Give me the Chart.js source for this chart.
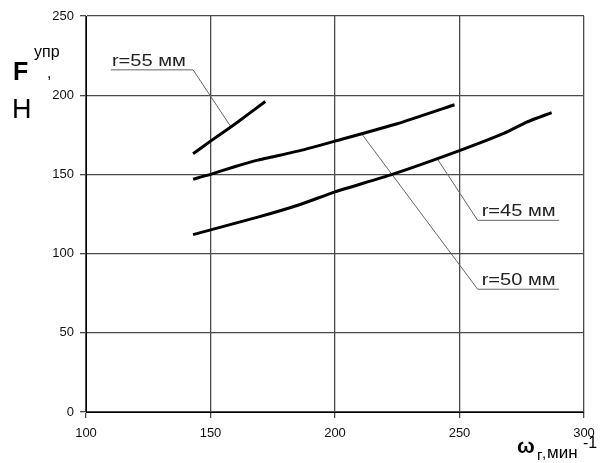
<!DOCTYPE html>
<html>
<head>
<meta charset="utf-8">
<script src="https://cdn.jsdelivr.net/npm/chart.js@4"></script>
<style>
  body { margin: 0; background: #fff; }
  #wrap { width: 604px; height: 463px; }
</style>
</head>
<body>
<div id="wrap"><canvas id="forceChart"></canvas></div>
<script>
// curves (omega, min^-1 -> F, N)
const upperX = [143, 150, 160, 172];
const upperY = [163, 171, 182, 196];
const middleX = [143, 150, 160, 169, 186, 200, 225, 248];
const middleY = [147, 150, 155, 159, 165, 171, 182, 194];
const lowerX = [143, 169, 186, 200, 223, 250, 268, 277, 287];
const lowerY = [112, 123, 131, 139, 150, 165, 176, 183, 189];

// callouts: underline + leader, in data units
const labelText = ["r=55 мм", "r=45 мм", "r=50 мм"];
const leader55X = [110, 143, 158];
const leader55Y = [216, 216, 180.5];
const leader45X = [290, 257.3, 241];
const leader45Y = [121, 121, 160];
const leader50X = [290, 257.3, 211];
const leader50Y = [77.5, 77.5, 175];

const xTicks = [100, 150, 200, 250, 300];
const yTicks = [0, 50, 100, 150, 200, 250];

const pts = (xs, ys) => xs.map((x, i) => ({x: x, y: ys[i]}));

function curve(xs, ys) {
    return {data: pts(xs, ys), showLine: true, borderColor: "#000", borderWidth: 3,
        pointRadius: 0, tension: 0.15, fill: false};
}
function leader(xs, ys) {
    return {data: pts(xs, ys), showLine: true, borderColor: "#666", borderWidth: 1,
        pointRadius: 0, tension: 0, fill: false};
}

const calloutText = {
    id: "calloutText",
    afterDatasetsDraw(chart) {
        const c = chart.ctx, xs = chart.scales.x, ys = chart.scales.y;
        const spots = [
            [leader55X[0], leader55Y[0]],
            [leader45X[1], leader45Y[1]],
            [leader50X[1], leader50Y[1]]
        ];
        c.save();
        c.fillStyle = "#222";
        c.font = "17px 'Liberation Sans', Arial, sans-serif";
        c.textBaseline = "alphabetic";
        labelText.forEach((t, i) => {
            const px = xs.getPixelForValue(spots[i][0]) + (i === 0 ? 1 : 4);
            const py = ys.getPixelForValue(spots[i][1]) - 4;
            const w = c.measureText(t).width;
            c.save();
            c.translate(px, py);
            c.scale(74 / w, 1);
            c.fillText(t, 0, 0);
            c.restore();
        });
        c.restore();
    }
};

const axisTitles = {
    id: "axisTitles",
    afterDraw(chart) {
        const c = chart.ctx;
        c.save();
        c.fillStyle = "#000";
        c.textBaseline = "alphabetic";
        c.font = "bold 25px 'Liberation Sans', Arial, sans-serif";
        c.fillText("F", 13, 80);
        c.font = "16px 'Liberation Sans', Arial, sans-serif";
        c.fillText("упр", 34, 57);
        c.fillText(",", 47, 78);
        c.font = "27px 'Liberation Sans', Arial, sans-serif";
        c.fillText("Н", 12, 118);

        c.font = "bold 21px 'Liberation Sans', Arial, sans-serif";
        c.fillText("ω", 517, 453);
        c.font = "15px 'Liberation Sans', Arial, sans-serif";
        c.fillText("г", 537, 460);
        c.fillText(",", 542, 458);
        c.font = "17px 'Liberation Sans', Arial, sans-serif";
        c.fillText("мин", 547, 458);
        c.font = "16px 'Liberation Sans', Arial, sans-serif";
        c.fillText("-1", 583, 448);
        c.restore();
    }
};

new Chart(document.getElementById("forceChart"), {
    type: "scatter",
    data: {
        datasets: [
            curve(upperX, upperY),
            curve(middleX, middleY),
            curve(lowerX, lowerY),
            leader(leader55X, leader55Y),
            leader(leader45X, leader45Y),
            leader(leader50X, leader50Y)
        ]
    },
    options: {
        responsive: true,
        maintainAspectRatio: false,
        animation: false,
        layout: {padding: {left: 0, top: 16, right: 20, bottom: 0}},
        plugins: {legend: {display: false}, tooltip: {enabled: false}},
        scales: {
            x: {
                type: "linear", min: 100, max: 300,
                afterBuildTicks: s => { s.ticks = xTicks.map(v => ({value: v})); },
                afterFit: s => { s.height = 51; },
                grid: {color: "#4a4a4a", lineWidth: 1.3, tickLength: 6},
                border: {color: "#000", width: 1},
                ticks: {color: "#111", padding: 8, maxRotation: 0,
                    font: {family: "'Liberation Sans', Arial, sans-serif", size: 13}}
            },
            y: {
                type: "linear", min: 0, max: 250,
                afterBuildTicks: s => { s.ticks = yTicks.map(v => ({value: v})); },
                afterFit: s => { s.width = 86; },
                grid: {color: "#4a4a4a", lineWidth: 1.3, tickLength: 6},
                border: {color: "#000", width: 1},
                ticks: {color: "#111", padding: 6,
                    font: {family: "'Liberation Sans', Arial, sans-serif", size: 13}}
            }
        }
    },
    plugins: [calloutText, axisTitles]
});
</script>
</body>
</html>
